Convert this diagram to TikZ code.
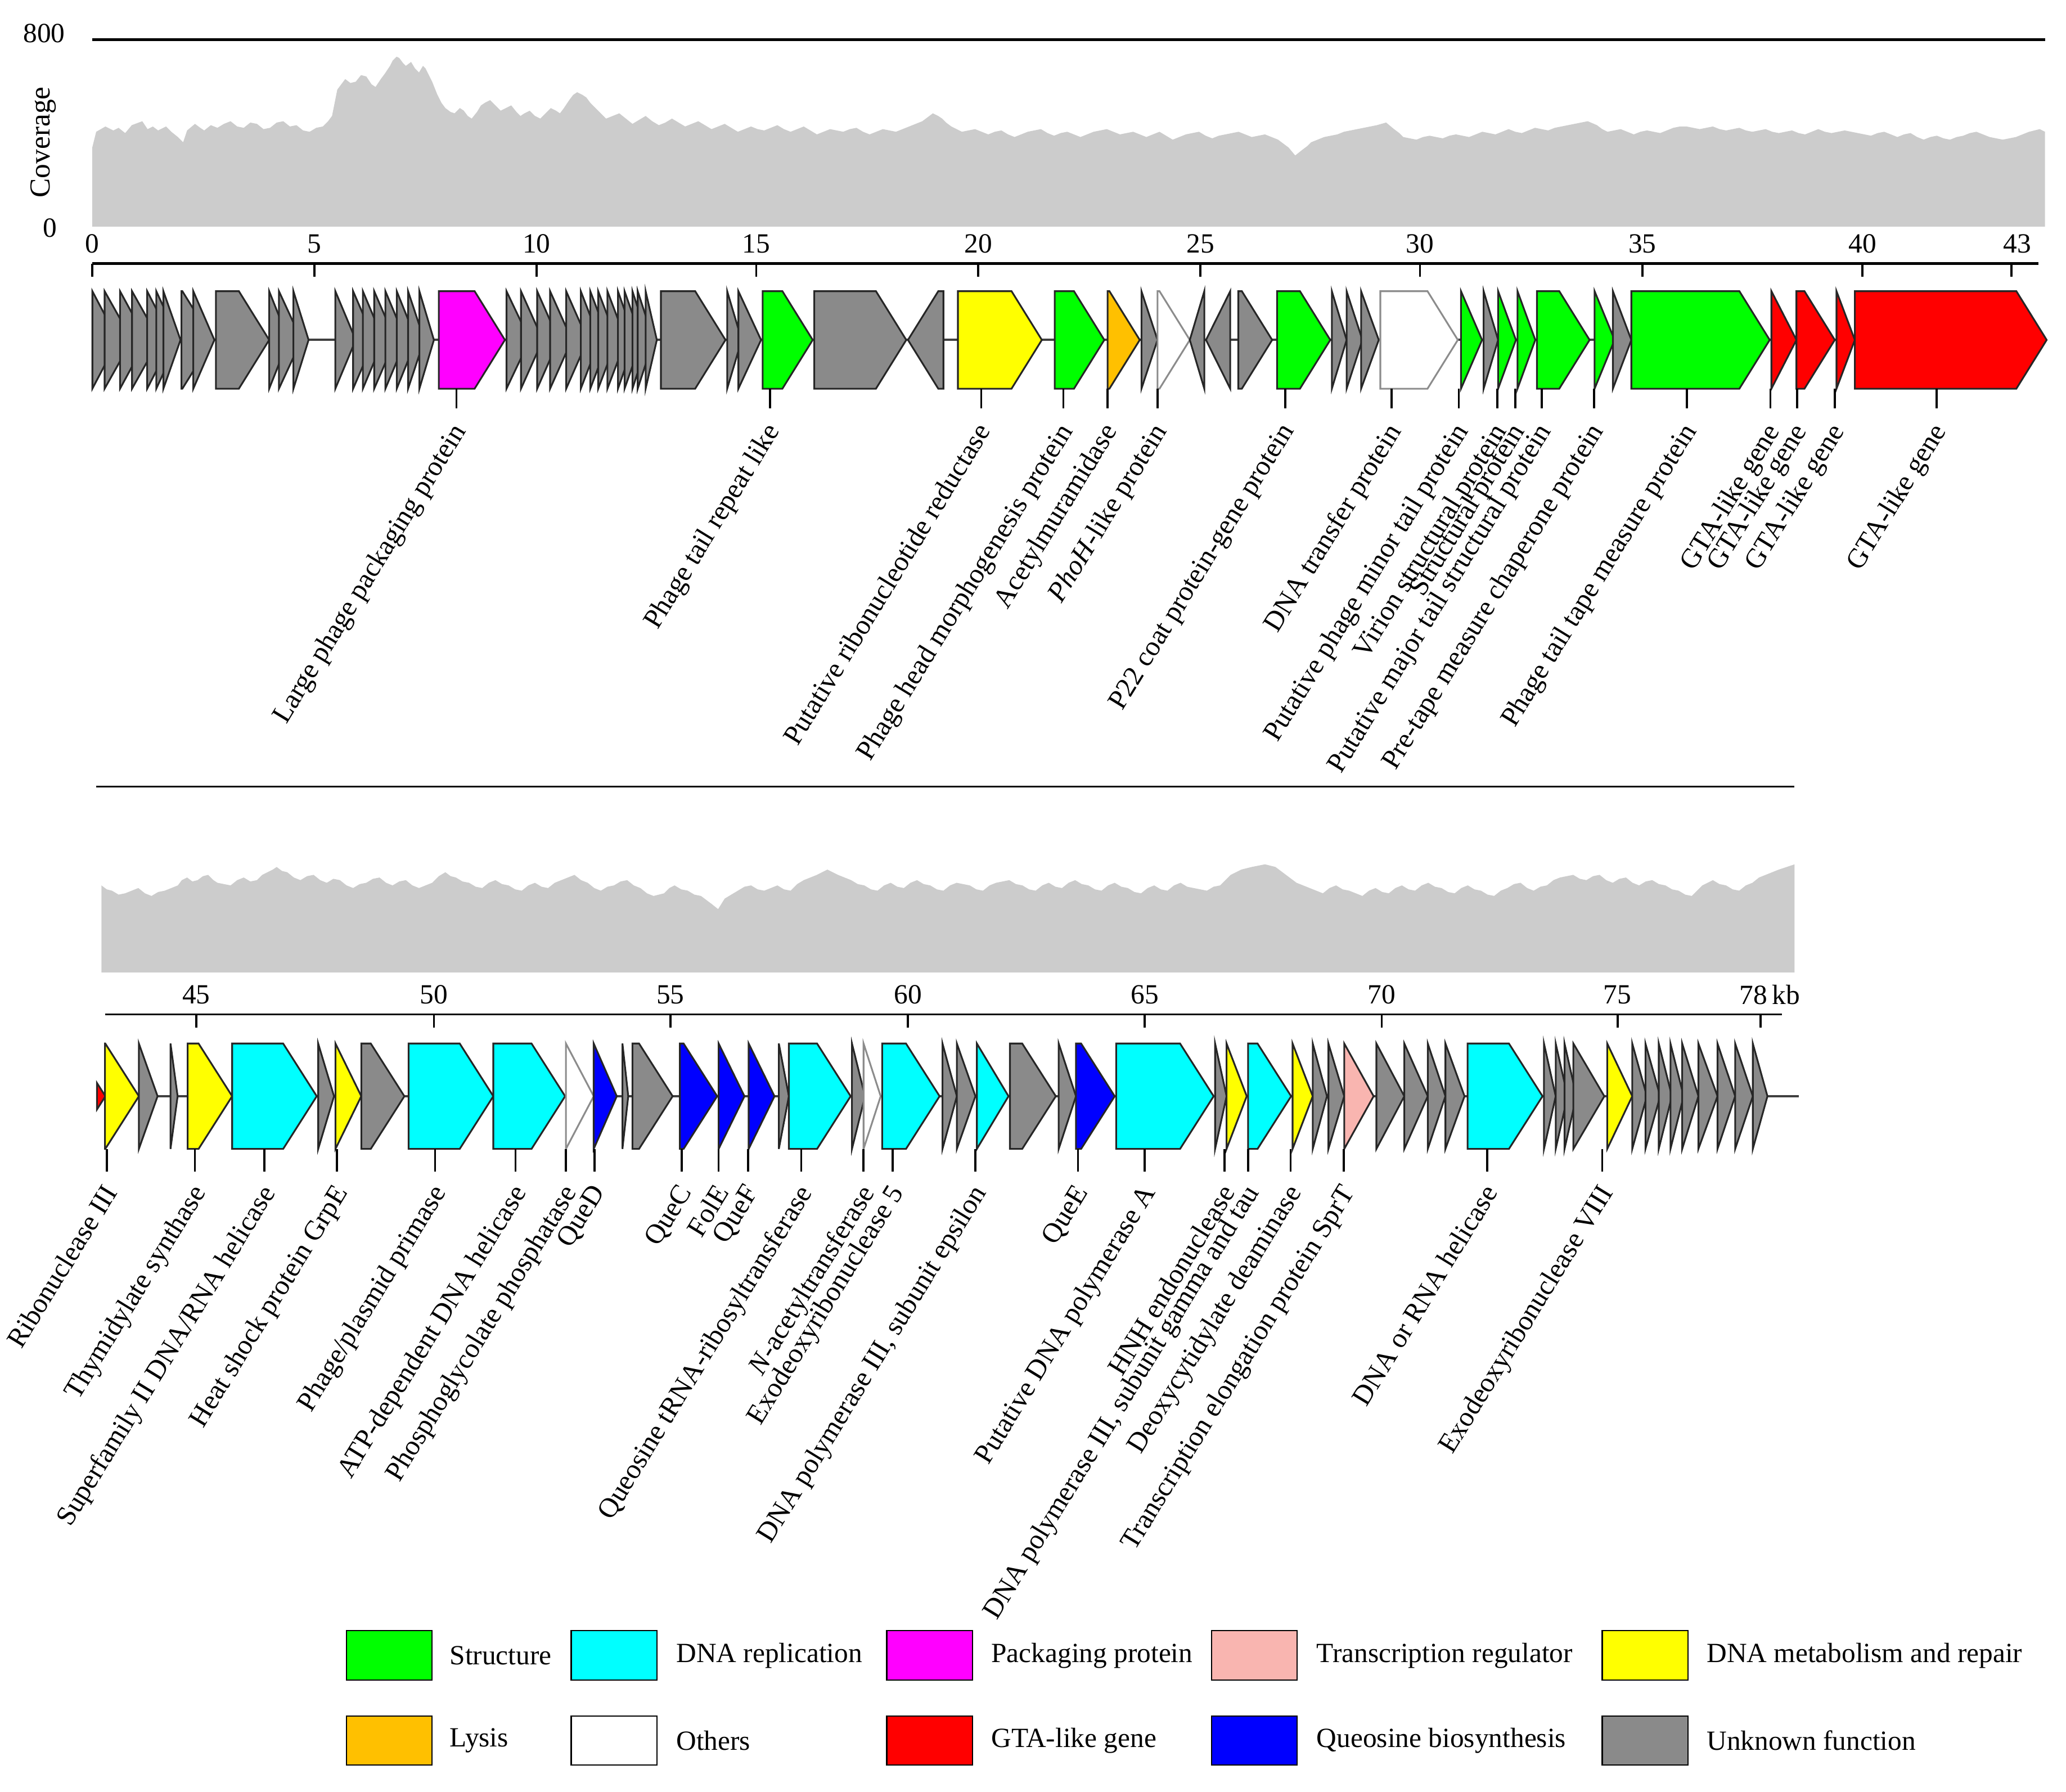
\documentclass[tikz,border=0pt]{standalone}
\usepackage{fontspec}
\setmainfont{Liberation Serif}
\definecolor{cStr}{HTML}{00FF00}
\definecolor{cRep}{HTML}{00FFFF}
\definecolor{cPack}{HTML}{FF00FF}
\definecolor{cTr}{HTML}{F9B5B0}
\definecolor{cMet}{HTML}{FFFF00}
\definecolor{cLys}{HTML}{FFC000}
\definecolor{cGta}{HTML}{FF0000}
\definecolor{cQue}{HTML}{0000FF}
\definecolor{cUnk}{HTML}{8A8A8A}
\definecolor{cCov}{HTML}{CCCCCC}
\newcommand{\lblfont}{\fontsize{12}{14}\selectfont}
% right-pointing gene: start, end, style
\newcommand{\gR}[3]{%
  \pgfmathsetmacro{\gHd}{min(#2-#1,\HL)}%
  \filldraw[gene,#3] (#1,\YT) -- ({#2-\gHd},\YT) -- (#2,\YC) -- ({#2-\gHd},\YB) -- (#1,\YB) -- cycle;}
% left-pointing gene: tip, end, style
\newcommand{\gL}[3]{%
  \pgfmathsetmacro{\gHd}{min(#2-#1,\HL)}%
  \filldraw[gene,#3] (#2,\YT) -- ({#1+\gHd},\YT) -- (#1,\YC) -- ({#1+\gHd},\YB) -- (#2,\YB) -- cycle;}
% label: name, x, text
\newcommand{\glab}[3]{%
  \draw[leader] (#2,\LT) -- (#2,\LB);
  \node[lbl] (#1) at ({#2+\LX},\LY) {#3};}
\begin{document}
\begin{tikzpicture}[x=0.02cm,y=-0.02cm,
  gene/.style={draw=black!85, line width=0.75pt, line join=miter},
  gstr/.style={fill=cStr},
  grep/.style={fill=cRep},
  gpack/.style={fill=cPack},
  gtrr/.style={fill=cTr},
  gmet/.style={fill=cMet},
  glys/.style={fill=cLys},
  goth/.style={fill=white, draw=black!45},
  ggta/.style={fill=cGta},
  gque/.style={fill=cQue},
  gunk/.style={fill=cUnk},
  leader/.style={line width=0.9pt},
  lbl/.style={rotate=58.5, anchor=north east, inner sep=0pt, font=\lblfont},
  num/.style={inner sep=0pt, font=\lblfont},
  lgbox/.style={draw=black, line width=0.5pt, minimum width=1.3cm, minimum height=0.75cm, inner sep=0pt},
  lgtxt/.style={anchor=west, inner sep=0pt, font=\lblfont}
]
\useasboundingbox (0,0) rectangle (1568,1360);

% ---------------- top coverage ----------------
\fill[cCov] plot coordinates {(70,172) (70,112) (73,100) (80,96) (86,99) (90,97) (95,101) (100,95) (108,92) (112,98) (116,96) (120,99) (126,96) (130,100) (135,104) (139,108) (142,99) (148,94) (152,97) (155,99) (160,95) (165,97) (170,94) (175,92) (180,96) (185,97) (190,93) (195,94) (200,98) (205,97) (210,93) (215,92) (220,96) (225,95) (230,99) (235,100) (240,97) (245,96) (249,92) (252,88) (256,68) (262,60) (266,63) (270,62) (274,57) (278,58) (282,64) (285,66) (289,60) (292,56) (296,50) (298,46) (301,43) (303,44) (306,48) (308,50) (312,47) (315,52) (318,55) (321,50) (323,52) (326,58) (328,62) (332,72) (335,78) (338,82) (342,85) (345,86) (349,82) (352,84) (355,88) (358,90) (362,85) (365,80) (368,78) (372,76) (376,80) (380,84) (384,82) (388,80) (392,85) (395,88) (398,86) (402,84) (406,88) (410,90) (414,86) (418,82) (422,84) (425,86) (428,82) (432,76) (435,72) (438,70) (442,72) (445,74) (448,78) (452,82) (456,86) (460,90) (465,88) (470,86) (475,90) (480,94) (485,91) (490,88) (495,92) (500,95) (505,93) (510,90) (515,93) (520,96) (525,94) (530,92) (535,95) (540,98) (545,96) (550,94) (555,97) (560,100) (565,98) (570,96) (575,98) (580,99) (585,97) (590,95) (595,98) (600,100) (605,98) (610,96) (615,99) (620,102) (625,100) (630,98) (635,99) (640,100) (645,98) (650,97) (655,100) (660,102) (665,100) (670,98) (675,99) (680,100) (685,98) (690,96) (695,94) (700,92) (704,89) (708,86) (712,88) (715,90) (718,93) (722,96) (726,98) (730,100) (735,99) (740,98) (745,100) (750,102) (755,100) (760,99) (765,102) (770,104) (775,102) (780,100) (785,99) (790,98) (795,101) (800,103) (805,101) (810,100) (815,102) (820,104) (825,102) (830,100) (835,99) (840,98) (845,100) (850,102) (855,101) (860,100) (865,102) (870,104) (875,102) (880,100) (885,103) (890,106) (895,104) (900,102) (905,101) (910,100) (915,103) (920,105) (925,103) (930,102) (935,101) (940,100) (945,102) (950,104) (955,103) (960,102) (965,104) (970,106) (974,109) (978,112) (983,118) (988,114) (992,111) (995,108) (1000,106) (1005,104) (1010,103) (1015,102) (1020,100) (1025,99) (1030,98) (1035,97) (1040,96) (1045,95) (1052,93) (1058,98) (1062,101) (1065,104) (1070,105) (1075,106) (1080,104) (1085,103) (1090,104) (1095,105) (1100,103) (1105,102) (1110,103) (1115,104) (1120,102) (1125,100) (1130,101) (1135,102) (1140,100) (1145,98) (1150,100) (1155,101) (1160,99) (1165,97) (1170,98) (1175,99) (1180,97) (1185,96) (1190,95) (1195,94) (1200,93) (1205,92) (1212,95) (1216,98) (1220,100) (1225,99) (1230,98) (1235,100) (1240,102) (1245,100) (1250,99) (1255,100) (1260,101) (1265,99) (1270,97) (1275,96) (1280,96) (1285,97) (1290,98) (1295,97) (1300,96) (1305,98) (1310,99) (1315,98) (1320,97) (1325,99) (1330,100) (1335,99) (1340,98) (1345,100) (1350,101) (1355,100) (1360,99) (1365,101) (1370,102) (1375,100) (1380,98) (1385,100) (1390,101) (1395,100) (1400,99) (1405,100) (1410,101) (1415,102) (1420,103) (1425,101) (1430,100) (1435,102) (1440,104) (1445,102) (1450,101) (1455,104) (1460,106) (1465,104) (1470,103) (1475,105) (1480,106) (1485,104) (1490,103) (1495,101) (1500,100) (1505,102) (1510,104) (1515,105) (1520,106) (1525,105) (1530,104) (1535,102) (1540,100) (1544,99) (1548,98) (1552,100) (1552,172)} -- cycle;
\draw[line width=1.3pt] (70,30) -- (1552,30);
\node[num] (c800) at (33.5,25.5) {800};
\node[num] (c0) at (38,173) {0};
\node[num, rotate=90, font=\fontsize{12.5}{14}\selectfont] (cov) at (33,108) {Coverage};

% ---------------- top axis ----------------
\draw[line width=1.1pt] (70,200) -- (1547,200);
\foreach \x/\t/\n in {70.1/0/a0, 238.7/5/a5, 407.2/10/a10, 573.9/15/a15, 742.5/20/a20, 911.1/25/a25, 1077.7/30/a30, 1246.4/35/a35, 1413.5/40/a40}{
  \draw[line width=0.9pt] (\x,200) -- (\x,210);
  \node[num] (\n) at (\x,185) {\t};
}
\draw[line width=0.9pt] (1526.7,200) -- (1526.7,210);
\node[num] (a43) at (1531,185) {43};

% ---------------- top genes ----------------
\draw[line width=1pt, black!75] (70,258) -- (1553,258);
\def\YT{221}\def\YC{258}\def\YB{295}\def\HL{23}
\gR{70.1}{89.6}{gunk}
\gR{79.4}{100.2}{gunk}
\gR{91.1}{111.2}{gunk}
\gR{100.2}{121}{gunk}
\gR{111.7}{130.8}{gunk}
\gR{118.6}{135.7}{gunk}
\gR{124}{137}{gunk}
\gR{137.7}{161.4}{gunk}
\gR{146.7}{162.7}{gunk}
\gR{163.9}{204.3}{gunk}
\gR{204.3}{219}{gunk}
\gR{211.7}{228.8}{gunk}
\gR{222.7}{234.2}{gunk}
\gR{254.5}{270}{gunk}
\gR{268}{284}{gunk}
\gR{275.4}{291}{gunk}
\gR{284}{300}{gunk}
\gR{292.5}{308}{gunk}
\gR{301.1}{316}{gunk}
\gR{309.7}{322}{gunk}
\gR{318.3}{329.3}{gunk}
\gR{333}{383.2}{gpack}
\gR{384.4}{402}{gunk}
\gR{395.4}{412}{gunk}
\gR{407.7}{424}{gunk}
\gR{417.5}{434}{gunk}
\gR{429.7}{446}{gunk}
\gR{440.8}{455}{gunk}
\gR{448}{462}{gunk}
\gR{454}{468}{gunk}
\gR{461}{475}{gunk}
\gR{469}{482}{gunk}
\gR{474}{487}{gunk}
\gR{480}{492}{gunk}
\gR{484}{496}{gunk}
\gR{490}{498.5}{gunk}
\gR{501.6}{550.6}{gunk}
\gR{551.9}{562.9}{gunk}
\gR{560.4}{577.6}{gunk}
\gR{578.8}{616.8}{gstr}
\gR{618}{687.8}{gunk}
\gL{689.1}{716}{gunk}
\gR{727}{790.7}{gmet}
\gR{800.5}{838.1}{gstr}
\gR{840.6}{865}{glys}
\gR{866.3}{878.5}{gunk}
\gR{878.5}{903}{goth}
\gL{903}{914}{gunk}
\gL{915.3}{933.7}{gunk}
\gR{939.8}{965.5}{gunk}
\gR{969.2}{1009.6}{gstr}
\gR{1010.8}{1022}{gunk}
\gR{1022}{1034}{gunk}
\gR{1033}{1046.4}{gunk}
\gR{1047.6}{1106.4}{goth}
\gR{1108.8}{1124.8}{gstr}
\gR{1126}{1137}{gunk}
\gR{1137}{1150.5}{gstr}
\gR{1151.7}{1165.2}{gstr}
\gR{1166.4}{1206.4}{gstr}
\gR{1210.2}{1225.4}{gstr}
\gR{1224.1}{1238.1}{gunk}
\gR{1238.1}{1343.1}{gstr}
\gR{1344.4}{1363.4}{ggta}
\gR{1363.4}{1392.5}{ggta}
\gR{1393.8}{1407.7}{ggta}
\gR{1407.7}{1553.3}{ggta}

% ---------------- top labels ----------------
\def\LT{295}\def\LB{310}\def\LY{319}\def\LX{-5}
\glab{t1}{346.4}{Large phage packaging protein}
\glab{t2}{584.4}{Phage tail repeat like}
\glab{t3}{744.7}{Putative ribonucleotide reductase}
\glab{t4}{807.1}{Phage head morphogenesis protein}
\glab{t5}{840.6}{Acetylmuramidase}
\glab{t6}{878.5}{\textit{PhoH}-like protein}
\glab{t7}{975.3}{P22 coat protein-gene protein}
\glab{t8}{1056.2}{DNA transfer protein}
\glab{t9}{1107.1}{Putative phage minor tail protein}
\glab{t10}{1136.3}{Virion structural protein}
\glab{t11}{1150}{Structural protein}
\glab{t12}{1170.1}{Putative major tail structural protein}
\glab{t13}{1209.7}{Pre-tape measure chaperone protein}
\glab{t14}{1280.3}{Phage tail tape measure protein}
\glab{t15}{1343.6}{GTA-like gene}
\glab{t16}{1363.9}{GTA-like gene}
\glab{t17}{1392.5}{GTA-like gene}
\glab{t18}{1469.7}{GTA-like gene}

% ---------------- bottom coverage ----------------
\draw[line width=0.8pt] (73,597) -- (1362,597);
\fill[cCov] plot coordinates {(77,738) (77,672) (81,675) (85,676) (90,679) (95,678) (100,676) (105,674) (110,678) (115,680) (120,677) (125,676) (130,674) (135,672) (138,668) (142,666) (146,669) (150,668) (154,665) (158,664) (162,668) (165,670) (170,671) (175,672) (180,668) (185,666) (190,669) (195,668) (199,664) (203,662) (207,660) (210,658) (214,661) (218,662) (223,666) (228,668) (233,665) (238,664) (243,668) (248,670) (253,667) (258,668) (263,672) (268,674) (273,671) (278,670) (283,667) (288,666) (293,670) (298,672) (303,669) (308,668) (313,672) (318,674) (323,672) (328,670) (333,665) (338,662) (342,665) (346,666) (351,669) (356,670) (361,673) (366,674) (371,670) (376,668) (381,671) (386,672) (391,675) (396,676) (401,672) (406,670) (411,673) (416,674) (421,670) (426,668) (431,666) (436,664) (441,668) (446,670) (451,674) (456,676) (461,673) (466,672) (471,669) (476,668) (481,672) (486,674) (491,678) (496,680) (500,679) (504,678) (508,674) (512,672) (517,675) (522,676) (527,679) (532,680) (536,683) (540,686) (545,690) (550,682) (555,679) (560,676) (565,673) (570,672) (575,675) (580,676) (585,674) (590,672) (595,675) (600,676) (605,671) (610,668) (615,666) (620,664) (624,662) (628,660) (632,662) (636,664) (641,666) (646,668) (651,671) (656,672) (661,675) (666,676) (671,672) (676,670) (681,673) (686,674) (691,670) (696,668) (701,671) (706,672) (711,675) (716,676) (721,672) (726,670) (731,671) (736,672) (741,675) (746,676) (751,672) (756,670) (761,669) (766,668) (771,671) (776,672) (781,675) (786,676) (791,672) (796,670) (801,673) (806,674) (811,670) (816,668) (821,671) (826,672) (831,675) (836,676) (841,672) (846,670) (851,673) (856,674) (861,677) (866,678) (871,674) (876,672) (881,675) (886,676) (891,672) (896,670) (901,673) (906,674) (911,675) (916,676) (921,673) (926,672) (930,668) (934,664) (938,662) (942,660) (946,659) (950,658) (955,657) (960,656) (964,657) (968,658) (972,661) (976,664) (980,667) (984,670) (989,672) (994,674) (999,676) (1004,678) (1009,674) (1014,672) (1019,675) (1024,676) (1029,678) (1034,680) (1039,676) (1044,674) (1049,677) (1054,678) (1059,674) (1064,672) (1069,675) (1074,676) (1079,672) (1084,670) (1089,673) (1094,674) (1099,677) (1104,678) (1109,674) (1114,672) (1119,675) (1124,676) (1129,679) (1134,680) (1139,676) (1144,674) (1149,671) (1154,670) (1159,674) (1164,676) (1169,673) (1174,672) (1179,668) (1184,666) (1189,665) (1194,664) (1199,667) (1204,668) (1209,665) (1214,664) (1219,668) (1224,670) (1229,667) (1234,666) (1239,670) (1244,672) (1249,669) (1254,668) (1259,671) (1264,672) (1269,675) (1274,676) (1279,679) (1284,680) (1288,676) (1292,672) (1296,670) (1300,668) (1305,671) (1310,672) (1315,675) (1320,676) (1325,672) (1330,670) (1335,666) (1340,664) (1345,662) (1350,660) (1356,658) (1362,656) (1362,738)} -- cycle;

% ---------------- bottom axis ----------------
\draw[line width=0.8pt] (79.7,770) -- (1352.6,770);
\foreach \x/\t/\n in {148.9/45/b45, 329.3/50/b50, 508.8/55/b55, 689.1/60/b60, 868.8/65/b65, 1048.6/70/b70, 1227.6/75/b75}{
  \draw[line width=0.9pt] (\x,770) -- (\x,780);
  \node[num] (\n) at (\x,755) {\t};
}
\draw[line width=0.9pt] (1336.1,770) -- (1336.1,780);
\node[num, anchor=west] (b78) at (1320,755) {78\,kb};

% ---------------- bottom genes ----------------
\draw[line width=1pt, black!75] (74,832) -- (1365,832);
\def\YT{792}\def\YC{832}\def\YB{872}\def\HL{25.5}
\filldraw[gene,ggta] (73.6,822) -- (80,832) -- (73.6,842) -- cycle;
\gR{79.7}{105.4}{gmet}
\gR{105.4}{119.6}{gunk}
\gR{129.4}{134.8}{gunk}
\gR{142.4}{176.2}{gmet}
\gR{176.2}{240.4}{grep}
\gR{241.5}{253.5}{gunk}
\gR{254.6}{274.2}{gmet}
\gR{274.2}{306.9}{gunk}
\gR{310.1}{374.4}{grep}
\gR{374.4}{428.9}{grep}
\gR{429.5}{450.6}{goth}
\gR{450.6}{468.1}{gque}
\gR{472.4}{476.8}{gunk}
\gR{480}{510.5}{gunk}
\gR{516}{544.3}{gque}
\gR{545.4}{565}{gque}
\gR{568.2}{587.8}{gque}
\gR{591.1}{598.7}{gunk}
\gR{598.7}{645.6}{grep}
\gR{646.6}{656.5}{gunk}
\gR{655.4}{668.4}{goth}
\gR{669.5}{713.1}{grep}
\gR{715.3}{726.2}{gunk}
\gR{726.2}{740.3}{gunk}
\gR{741.4}{765.4}{grep}
\gR{766.5}{801.3}{gunk}
\gR{803.5}{816.6}{gunk}
\gR{816.6}{846}{gque}
\gR{847.1}{921.1}{grep}
\gR{922.2}{930.9}{gunk}
\gR{930.9}{946.2}{gmet}
\gR{947.2}{979.9}{grep}
\gR{981}{996.3}{gmet}
\gR{996.3}{1007.1}{gunk}
\gR{1008.2}{1020.2}{gunk}
\gR{1020.2}{1042.5}{gtrr}
\gR{1044.6}{1065.8}{gunk}
\gR{1065.8}{1083.6}{gunk}
\gR{1083.6}{1097}{gunk}
\gR{1097}{1111.5}{gunk}
\gR{1113.8}{1170.7}{grep}
\gR{1171.8}{1180.7}{gunk}
\gR{1180.7}{1189.7}{gunk}
\gR{1187.4}{1196.4}{gunk}
\gR{1194.1}{1217.6}{gunk}
\gR{1219.8}{1238.8}{gmet}
\gR{1238.8}{1249.9}{gunk}
\gR{1248.8}{1260}{gunk}
\gR{1258.9}{1268.9}{gunk}
\gR{1267.8}{1277.8}{gunk}
\gR{1276.7}{1289}{gunk}
\gR{1289}{1303.5}{gunk}
\gR{1303.5}{1316.9}{gunk}
\gR{1316.9}{1330.3}{gunk}
\gR{1330.3}{1341.4}{gunk}

% ---------------- bottom labels ----------------
\def\LT{872}\def\LB{889}\def\LY{897}\def\LX{-4}
\glab{u1}{81}{Ribonuclease III}
\glab{u2}{147.9}{Thymidylate synthase}
\glab{u3}{200.6}{Superfamily II DNA/RNA helicase}
\glab{u4}{255.7}{Heat shock protein GrpE}
\glab{u5}{330.2}{Phage/plasmid primase}
\glab{u6}{391.2}{ATP-dependent DNA helicase}
\glab{u7}{429.5}{Phosphoglycolate phosphatase}
\glab{u8}{451.3}{QueD}
\glab{u9}{517.5}{QueC}
\glab{u10}{545.4}{FolE}
\glab{u11}{567.8}{QueF}
\glab{u12}{608.1}{Queosine tRNA-ribosyltransferase}
\glab{u13}{655.4}{\textit{N}-acetyltransferase}
\glab{u14}{677.4}{Exodeoxyribonuclease 5}
\glab{u15}{740.3}{DNA polymerase III, subunit epsilon}
\glab{u16}{818.1}{QueE}
\glab{u17}{868.8}{Putative DNA polymerase A}
\glab{u18}{929.4}{HNH endonuclease}
\glab{u19}{947.2}{DNA polymerase III, subunit gamma and tau}
\glab{u20}{979.5}{Deoxycytidylate deaminase}
\glab{u21}{1019.8}{Transcription elongation protein SprT}
\glab{u22}{1128.7}{DNA or RNA helicase}
\glab{u23}{1216}{Exodeoxyribonuclease VIII}

% ---------------- legend ----------------
\node[lgbox, fill=cStr] (k1) at (295.5,1256.5) {};
\node[lgtxt] (k1t) at (341,1256.5) {Structure};
\node[lgbox, fill=cRep] (k2) at (466,1256.5) {};
\node[lgtxt] (k2t) at (513,1256.5) {DNA replication};
\node[lgbox, fill=cPack] (k3) at (705.5,1256.5) {};
\node[lgtxt] (k3t) at (752,1256.5) {Packaging protein};
\node[lgbox, fill=cTr] (k4) at (952,1256.5) {};
\node[lgtxt] (k4t) at (999,1256.5) {Transcription regulator};
\node[lgbox, fill=cMet] (k5) at (1248.5,1256.5) {};
\node[lgtxt] (k5t) at (1295,1256.5) {DNA metabolism and repair};
\node[lgbox, fill=cLys] (k6) at (295.5,1321) {};
\node[lgtxt] (k6t) at (341,1321) {Lysis};
\node[lgbox, fill=white] (k7) at (466,1321) {};
\node[lgtxt] (k7t) at (513,1321) {Others};
\node[lgbox, fill=cGta] (k8) at (705.5,1321) {};
\node[lgtxt] (k8t) at (752,1321) {GTA-like gene};
\node[lgbox, fill=cQue] (k9) at (952,1321) {};
\node[lgtxt] (k9t) at (999,1321) {Queosine biosynthesis};
\node[lgbox, fill=cUnk] (k10) at (1248.5,1321) {};
\node[lgtxt] (k10t) at (1295,1321) {Unknown function};
\end{tikzpicture}
\end{document}
